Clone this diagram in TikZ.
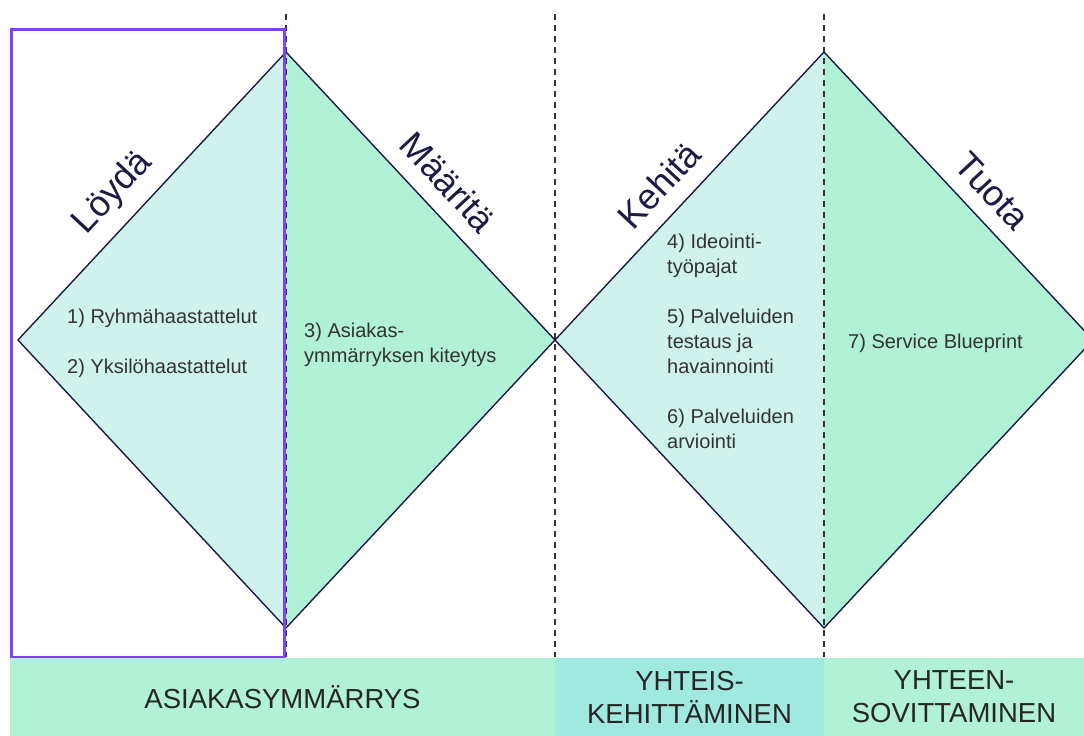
\documentclass[tikz,border=0pt]{standalone}
\usepackage{fontspec}
\setmainfont{Liberation Sans}
\definecolor{paleaqua}{HTML}{CFF3EC}
\definecolor{mint}{HTML}{B1F1D5}
\definecolor{teal}{HTML}{A0E9DF}
\definecolor{navy}{HTML}{1B1B44}
\definecolor{violet}{HTML}{8040FF}
\definecolor{textgray}{HTML}{333333}
\definecolor{dashgray}{HTML}{333333}
\begin{document}
\begin{tikzpicture}[x=1pt,y=-1pt,
  halfleft/.style={fill=paleaqua,draw=none},
  halfright/.style={fill=mint,draw=none},
  outline/.style={draw=navy,line width=1.4pt,line join=miter},
  divider/.style={draw=dashgray,line width=1.2pt,dash pattern=on 6pt off 5pt},
  frame/.style={draw=violet,line width=3pt},
  phase/.style={font=\fontsize{36}{40}\selectfont,text=navy,inner sep=0pt},
  item/.style={font=\fontsize{20}{25}\selectfont,text=textgray,align=left,anchor=base west,inner sep=0pt},
  band/.style={draw=none,minimum height=78pt,inner sep=0pt,font=\fontsize{27.5}{33}\selectfont,text=black!85,align=center}]
\useasboundingbox (0,0) rectangle (1084,736);
\clip (0,0) rectangle (1084,736);

% diamond corner points
\coordinate (aL) at (18,340);
\coordinate (aT) at (286,52);
\coordinate (aB) at (286,628);
\coordinate (mid) at (555,340);
\coordinate (bT) at (824,52);
\coordinate (bB) at (824,628);
\coordinate (bR) at (1093,340);

% dashed phase dividers
\coordinate (d1t) at (286,14);
\coordinate (d1b) at (286,657);
\coordinate (d2t) at (555,14);
\coordinate (d2b) at (555,657);
\coordinate (d3t) at (824,14);
\coordinate (d3b) at (824,657);

% diamond halves
\fill[halfleft] (aL) -- (aT) -- (aB) -- cycle;
\fill[halfright] (aT) -- (mid) -- (aB) -- cycle;
\fill[halfleft] (mid) -- (bT) -- (bB) -- cycle;
\fill[halfright] (bT) -- (bR) -- (bB) -- cycle;

\draw[divider] (d1t) -- (d1b);
\draw[divider] (d2t) -- (d2b);
\draw[divider] (d3t) -- (d3b);

\draw[outline] (aL) -- (aT) -- (mid) -- (aB) -- cycle;
\draw[outline] (mid) -- (bT) -- (bR) -- (bB) -- cycle;

% highlighted first phase
\coordinate (fa) at (11,29);
\coordinate (fb) at (284,657);
\draw[frame] (fa) rectangle (fb);

% phase titles
\node[phase,rotate=47] (loyda) at (113,193) {Löydä};
\node[phase,rotate=-47] (maarita) at (448,182) {Määritä};
\node[phase,rotate=47] (kehita) at (659,185) {Kehitä};
\node[phase,rotate=-47] (tuota) at (992,191) {Tuota};

% activities (base anchor sits on the last line)
\node[item] (i1) at (67,323) {1) Ryhmähaastattelut};
\node[item] (i2) at (67,373) {2) Yksilöhaastattelut};
\node[item] (i3) at (304,362) {3) Asiakas-\\ymmärryksen kiteytys};
\node[item] (i4) at (667,273) {4) Ideointi-\\työpajat};
\node[item] (i5) at (667,373) {5) Palveluiden\\testaus ja\\havainnointi};
\node[item] (i6) at (667,448) {6) Palveluiden\\arviointi};
\node[item] (i7) at (848,348) {7) Service Blueprint};

% bottom bands
\node[band,fill=mint,minimum width=545pt] (asiakas) at (282.5,697) {ASIAKASYMMÄRRYS};
\node[band,fill=teal,minimum width=269pt] (yhteis) at (689.5,697) {YHTEIS-\\KEHITTÄMINEN};
\node[band,fill=mint,minimum width=260pt] (yhteen) at (954,697) {YHTEEN-\\SOVITTAMINEN};
\end{tikzpicture}
\end{document}
